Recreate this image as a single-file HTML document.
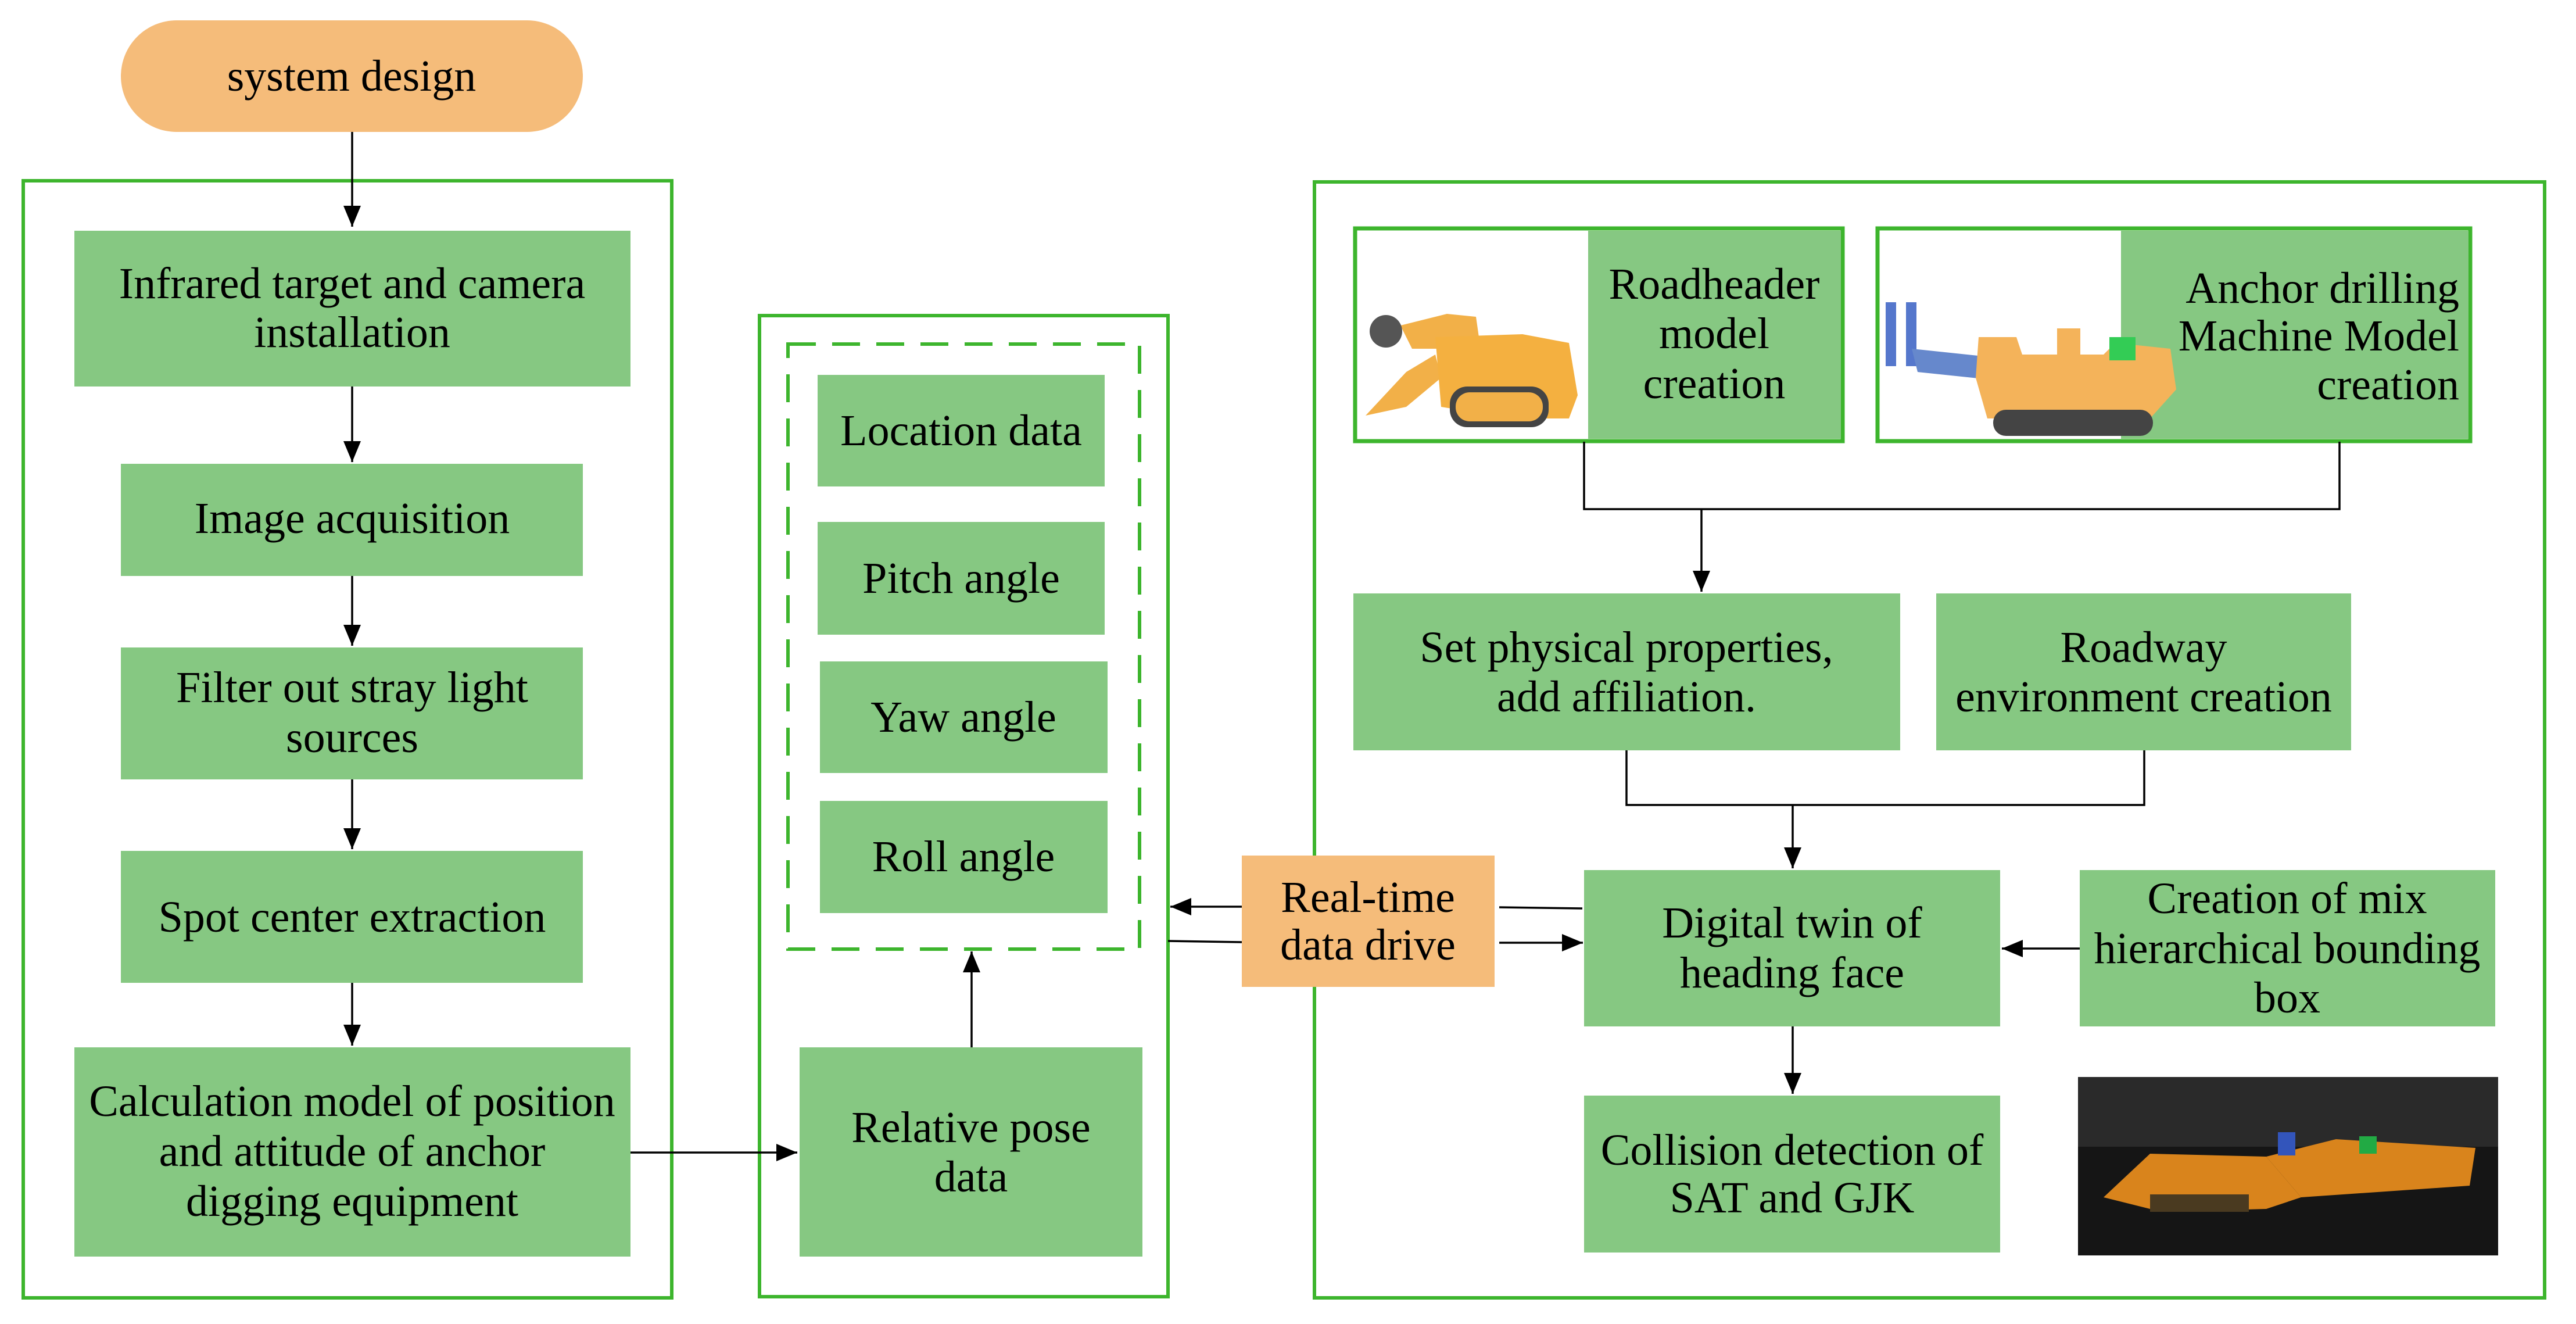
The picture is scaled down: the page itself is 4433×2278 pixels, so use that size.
<!DOCTYPE html>
<html><head><meta charset="utf-8"><style>
html,body{margin:0;padding:0;background:#fff;}
svg{display:block;}
text{font-family:"Liberation Serif",serif;font-size:76px;fill:#000;}
</style></head><body>
<svg width="4433" height="2278" viewBox="0 0 4433 2278" xmlns="http://www.w3.org/2000/svg">
<defs>
<marker id="ah" markerWidth="36" markerHeight="30" refX="10" refY="5" orient="auto" markerUnits="userSpaceOnUse" viewBox="0 0 10 10" preserveAspectRatio="none">
<path d="M0,0 L10,5 L0,10 z" fill="#000"/>
</marker>
</defs>
<!-- pill -->
<rect x="208" y="35" width="795" height="192" rx="96" fill="#F5BC7A"/>
<text x="605" y="131" text-anchor="middle" dominant-baseline="central">system design</text>

<!-- containers -->
<rect x="40" y="311" width="1116" height="1922" fill="none" stroke="#3DB52D" stroke-width="6"/>
<rect x="1307" y="543" width="703" height="1688" fill="none" stroke="#3DB52D" stroke-width="6"/>
<rect x="1356" y="592" width="605" height="1041" fill="none" stroke="#3DB52D" stroke-width="6" stroke-dasharray="48,28"/>
<rect x="2262" y="313" width="2117" height="1920" fill="none" stroke="#3DB52D" stroke-width="6"/>

<g fill="#86C882">
<rect x="128" y="397" width="957" height="268"/>
<rect x="208" y="798" width="795" height="193"/>
<rect x="208" y="1114" width="795" height="227"/>
<rect x="208" y="1464" width="795" height="227"/>
<rect x="128" y="1802" width="957" height="360"/>
<rect x="1407" y="645" width="494" height="192"/>
<rect x="1407" y="898" width="494" height="194"/>
<rect x="1411" y="1138" width="495" height="192"/>
<rect x="1411" y="1378" width="495" height="193"/>
<rect x="1376" y="1802" width="590" height="360"/>
<rect x="2329" y="1021" width="941" height="270"/>
<rect x="3332" y="1021" width="714" height="270"/>
<rect x="2726" y="1497" width="716" height="269"/>
<rect x="3579" y="1497" width="715" height="269"/>
<rect x="2726" y="1885" width="716" height="270"/>
</g>
<rect x="2137" y="1472" width="435" height="226" fill="#F5BC7A"/>

<text x="606" y="488" text-anchor="middle" dominant-baseline="central">Infrared target and camera</text>
<text x="606" y="572" text-anchor="middle" dominant-baseline="central">installation</text>
<text x="606" y="892" text-anchor="middle" dominant-baseline="central">Image acquisition</text>
<text x="606" y="1183" text-anchor="middle" dominant-baseline="central">Filter out stray light</text>
<text x="606" y="1269" text-anchor="middle" dominant-baseline="central">sources</text>
<text x="606" y="1578" text-anchor="middle" dominant-baseline="central">Spot center extraction</text>
<text x="606" y="1895" text-anchor="middle" dominant-baseline="central">Calculation model of position</text>
<text x="606" y="1981" text-anchor="middle" dominant-baseline="central">and attitude of anchor</text>
<text x="606" y="2067" text-anchor="middle" dominant-baseline="central">digging equipment</text>

<text x="1654" y="741" text-anchor="middle" dominant-baseline="central">Location data</text>
<text x="1654" y="995" text-anchor="middle" dominant-baseline="central">Pitch angle</text>
<text x="1658" y="1234" text-anchor="middle" dominant-baseline="central">Yaw angle</text>
<text x="1658" y="1474" text-anchor="middle" dominant-baseline="central">Roll angle</text>
<text x="1671" y="1940" text-anchor="middle" dominant-baseline="central">Relative pose</text>
<text x="1671" y="2025" text-anchor="middle" dominant-baseline="central">data</text>

<text x="2354" y="1544" text-anchor="middle" dominant-baseline="central">Real-time</text>
<text x="2354" y="1626" text-anchor="middle" dominant-baseline="central">data drive</text>

<text x="2799" y="1114" text-anchor="middle" dominant-baseline="central">Set physical properties,</text>
<text x="2799" y="1199" text-anchor="middle" dominant-baseline="central">add affiliation.</text>
<text x="3689" y="1114" text-anchor="middle" dominant-baseline="central">Roadway</text>
<text x="3689" y="1199" text-anchor="middle" dominant-baseline="central">environment creation</text>
<text x="3084" y="1588" text-anchor="middle" dominant-baseline="central">Digital twin of</text>
<text x="3084" y="1674" text-anchor="middle" dominant-baseline="central">heading face</text>
<text x="3936" y="1546" text-anchor="middle" dominant-baseline="central">Creation of mix</text>
<text x="3936" y="1632" text-anchor="middle" dominant-baseline="central">hierarchical bounding</text>
<text x="3936" y="1717" text-anchor="middle" dominant-baseline="central">box</text>
<text x="3084" y="1979" text-anchor="middle" dominant-baseline="central">Collision detection of</text>
<text x="3084" y="2061" text-anchor="middle" dominant-baseline="central">SAT and GJK</text>

<!-- model boxes -->
<rect x="2332" y="393" width="839" height="366" fill="#fff" stroke="#3DB52D" stroke-width="7"/>
<rect x="2733" y="397" width="435" height="358" fill="#86C882"/>
<rect x="3231" y="393" width="1020" height="366" fill="#fff" stroke="#3DB52D" stroke-width="7"/>
<rect x="3650" y="397" width="598" height="358" fill="#86C882"/>
<g>
<polygon points="2350,715 2420,640 2470,610 2480,650 2420,700" fill="#F2B048"/>
<polygon points="2410,560 2490,540 2540,545 2545,580 2500,600 2430,600" fill="#F2B048"/>
<polygon points="2470,580 2620,575 2700,590 2715,680 2700,720 2600,720 2480,700" fill="#F4B040"/>
<rect x="2495" y="665" width="170" height="70" rx="30" fill="#444"/>
<rect x="2505" y="675" width="150" height="50" rx="24" fill="#F2B048"/>
<circle cx="2385" cy="570" r="28" fill="#555"/>
</g>
<g>
<rect x="3245" y="520" width="18" height="110" fill="#5577CC"/>
<rect x="3280" y="520" width="18" height="110" fill="#5577CC"/>
<polygon points="3290,600 3480,620 3490,660 3300,640" fill="#6688CC"/>
<polygon points="3405,580 3470,580 3480,610 3620,610 3640,590 3735,600 3745,670 3700,720 3420,720 3400,650" fill="#F4B35A"/>
<rect x="3540" y="565" width="40" height="50" fill="#F4B35A"/>
<rect x="3630" y="580" width="45" height="40" fill="#33CC55"/>
<rect x="3430" y="705" width="275" height="45" rx="22" fill="#444"/>
</g>
<rect x="3576" y="1853" width="723" height="307" fill="#151515"/>
<rect x="3576" y="1853" width="723" height="120" fill="#2a2a2a"/>
<polygon points="3620,2060 3700,1985 3900,1990 3960,2060 3900,2080 3720,2085" fill="#D9841C"/>
<polygon points="3900,1990 4020,1960 4260,1975 4250,2040 3960,2060" fill="#D9841C"/>
<rect x="3920" y="1948" width="30" height="40" fill="#3355BB"/>
<rect x="4060" y="1955" width="30" height="30" fill="#22AA44"/>
<rect x="3700" y="2055" width="170" height="30" fill="#4a3a20"/>

<g stroke="#000" stroke-width="3.5" fill="none">
<line x1="606" y1="227" x2="606" y2="390" marker-end="url(#ah)"/>
<line x1="606" y1="665" x2="606" y2="795" marker-end="url(#ah)"/>
<line x1="606" y1="991" x2="606" y2="1111" marker-end="url(#ah)"/>
<line x1="606" y1="1341" x2="606" y2="1461" marker-end="url(#ah)"/>
<line x1="606" y1="1691" x2="606" y2="1799" marker-end="url(#ah)"/>
<line x1="1085" y1="1983" x2="1372" y2="1983" marker-end="url(#ah)"/>
<line x1="1672" y1="1802" x2="1672" y2="1637" marker-end="url(#ah)"/>
<line x1="2137" y1="1560" x2="2014" y2="1560" marker-end="url(#ah)"/>
<line x1="2010" y1="1619" x2="2137" y2="1621"/>
<line x1="2580" y1="1561" x2="2723" y2="1563"/>
<line x1="2580" y1="1622" x2="2724" y2="1622" marker-end="url(#ah)"/>
<polyline points="2726,760 2726,876 4026,876 4026,760"/>
<line x1="2928" y1="876" x2="2928" y2="1018" marker-end="url(#ah)"/>
<polyline points="2799,1291 2799,1385 3690,1385 3690,1291"/>
<line x1="3085" y1="1385" x2="3085" y2="1494" marker-end="url(#ah)"/>
<line x1="3579" y1="1632" x2="3445" y2="1632" marker-end="url(#ah)"/>
<line x1="3085" y1="1766" x2="3085" y2="1882" marker-end="url(#ah)"/>
</g>
<text x="2950" y="489" text-anchor="middle" dominant-baseline="central">Roadheader</text>
<text x="2950" y="574" text-anchor="middle" dominant-baseline="central">model</text>
<text x="2950" y="660" text-anchor="middle" dominant-baseline="central">creation</text>
<text x="4232" y="496" text-anchor="end" dominant-baseline="central">Anchor drilling</text>
<text x="4232" y="578" text-anchor="end" dominant-baseline="central">Machine Model</text>
<text x="4232" y="662" text-anchor="end" dominant-baseline="central">creation</text>
</svg>
</body></html>
